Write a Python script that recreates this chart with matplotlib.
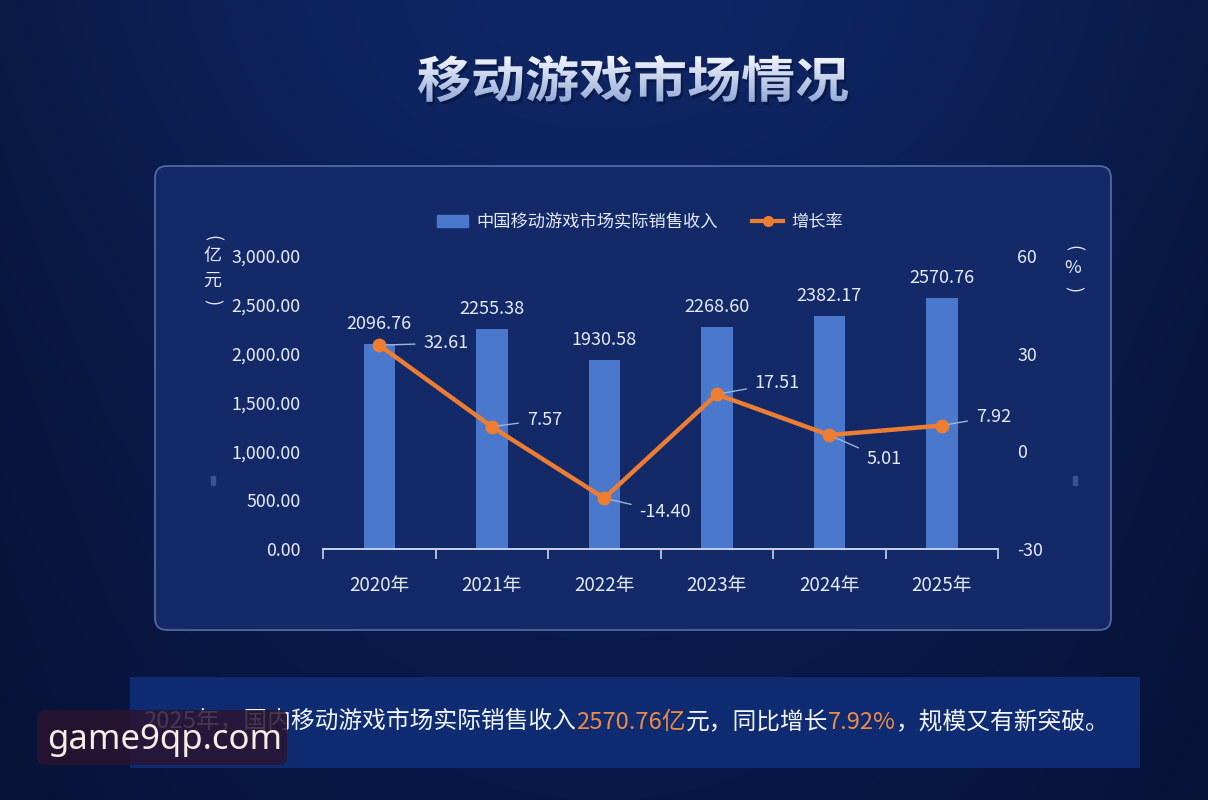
import numpy as np
import matplotlib
matplotlib.use('Agg')
import matplotlib.pyplot as plt
from matplotlib.patches import FancyBboxPatch, Rectangle, PathPatch
from matplotlib.lines import Line2D
from matplotlib.textpath import TextPath
from matplotlib.font_manager import FontProperties
from matplotlib.transforms import Affine2D

plt.rcParams['font.family'] = ['Noto Sans CJK SC', 'DejaVu Sans']
plt.rcParams['axes.unicode_minus'] = False

# data
years = ['2020年', '2021年', '2022年', '2023年', '2024年', '2025年']
income = [2096.76, 2255.38, 1930.58, 2268.60, 2382.17, 2570.76]   # 亿元
growth = [32.61, 7.57, -14.40, 17.51, 5.01, 7.92]                 # %
# where each growth label sits relative to its point (pixels)
label_offsets = [(44, 2), (35, 7), (35, -14), (38, 11), (37, -24), (34, 9)]

title = '移动游戏市场情况'
bar_name = '中国移动游戏市场实际销售收入'
line_name = '增长率'
summary = [('2025年，国内移动游戏市场实际销售收入', 'w'), ('2570.76亿', 'o'),
           ('元，同比增长', 'w'), ('7.92%', 'o'), ('，规模又有新突破。', 'w')]

BLUE = '#4a78cc'
ORANGE = '#ec7d33'
TXT = '#e4eaf7'

W, H = 1208, 800
fig = plt.figure(figsize=(W / 100, H / 100), dpi=100)

# background layer in pixel coords
bg = fig.add_axes([0, 0, 1, 1], zorder=-10)
bg.axis('off')

yy, xx = np.mgrid[0:H, 0:W]
top = np.array([0x0d, 0x22, 0x5c]) / 255
bot = np.array([0x09, 0x18, 0x48]) / 255
t = (yy / H)[..., None]
img = top * (1 - t) + bot * t
glow = np.exp(-(((xx - 604) / 500) ** 2 + ((yy - 60) / 220) ** 2))[..., None]
img = img + glow * np.array([0.01, 0.02, 0.04])
edge = (np.abs(xx - 604) / 604)[..., None] ** 2
img = img * (1 - 0.25 * edge)
bg.imshow(np.clip(img, 0, 1), extent=(0, W, H, 0), aspect='auto', zorder=0)

# chart panel
bg.add_patch(FancyBboxPatch((155, 166), 956, 464,
                            boxstyle='round,pad=0,rounding_size=12',
                            facecolor='#142a68', edgecolor='#51679f',
                            lw=1.3, zorder=1))
for px in (211, 1073):
    bg.add_patch(Rectangle((px, 476), 4, 9, color='#3a5290', zorder=2))

# bottom banner
bg.add_patch(Rectangle((130, 677), 1010, 91, facecolor='#0f2c72',
                       edgecolor='none', zorder=1))

# title with gradient fill
fp = FontProperties(family='Noto Sans CJK SC', weight='bold')
tp = TextPath((0, 0), title, size=50, prop=fp)
ext = tp.get_extents()
sx = 430 / ext.width
sy = 47 / ext.height
tr = Affine2D().translate(-ext.x0, -ext.y0).scale(sx, -sy).translate(420, 105)
bg.add_patch(PathPatch(tr.transform_path(tp), facecolor='#050d2a',
                       edgecolor='none', alpha=0.45, zorder=3))
tr = Affine2D().translate(-ext.x0, -ext.y0).scale(sx, -sy).translate(418, 102)
clip = PathPatch(tr.transform_path(tp), facecolor='none', edgecolor='none',
                 zorder=4)
bg.add_patch(clip)
g = np.linspace(0, 1, 100)[:, None]
c1 = np.array([0xf6, 0xf8, 0xfd]) / 255
c2 = np.array([0x93, 0xa9, 0xd6]) / 255
grad = c1 * (1 - g[..., None]) + c2 * g[..., None]
grad = np.repeat(grad, 2, axis=1)
im = bg.imshow(grad, extent=(418, 848, 102, 55), aspect='auto', zorder=4)
im.set_clip_path(clip)

bg.set_xlim(0, W)
bg.set_ylim(H, 0)

# summary line with coloured numbers
colors = {'w': '#f2f5fb', 'o': '#ee8a45'}
txt = bg.text(143, 722, summary[0][0], color=colors[summary[0][1]],
              fontsize=17.1, va='center', ha='left', zorder=5)
for seg, c in summary[1:]:
    txt = bg.annotate(seg, xy=(1, 0), xycoords=txt, va='bottom', ha='left',
                      color=colors[c], fontsize=17.1, zorder=5)

# watermark
bg.add_patch(FancyBboxPatch((37, 710), 250, 55,
                            boxstyle='round,pad=0,rounding_size=8',
                            facecolor='#2a1530', edgecolor='none',
                            alpha=0.85, zorder=6))
bg.text(47, 740, 'game9qp.com', color='#f6eee4', fontsize=25,
        family=['Noto Sans', 'DejaVu Sans'], va='center', ha='left',
        zorder=7)

# main chart
ax = fig.add_axes([323 / W, 1 - 549 / H, 675 / W, 293 / H])
ax.set_facecolor('none')
x = np.arange(len(years))
ax.bar(x, income, width=0.28, color=BLUE, zorder=2)
for i, v in enumerate(income):
    ax.annotate(f'{v:.2f}', (i, v), xytext=(0, 11), textcoords='offset pixels',
                ha='center', va='bottom', color=TXT, fontsize=13)
ax.set_xlim(-0.5, len(years) - 0.5)
ax.set_ylim(0, 3000)
ax.set_yticks(np.arange(0, 3001, 500))
ax.set_yticklabels([f'{v:,.2f}' for v in np.arange(0, 3001, 500)])
ax.set_xticks(x)
ax.set_xticklabels(years)
ax.set_xticks(np.arange(-0.5, len(years)), minor=True)
ax.tick_params(axis='x', which='major', length=0, pad=19, labelsize=13.5,
               labelcolor=TXT)
ax.tick_params(axis='x', which='minor', length=7, width=1.2, color='#c8d2ea')
ax.tick_params(axis='y', length=0, pad=16, labelsize=12.8, labelcolor=TXT)
for s in ['top', 'left', 'right']:
    ax.spines[s].set_visible(False)
ax.spines['bottom'].set_color('#c8d2ea')
ax.spines['bottom'].set_linewidth(1.4)

ax2 = ax.twinx()
ax2.plot(x, growth, color=ORANGE, lw=3.2, marker='o', ms=9, zorder=3)
for i, gv in enumerate(growth):
    ax2.annotate(f'{gv:.2f}', (i, gv), xytext=label_offsets[i],
                 textcoords='offset pixels', ha='left', va='center',
                 color=TXT, fontsize=13,
                 arrowprops=dict(arrowstyle='-', color='#9fb2db', lw=1,
                                 shrinkA=4, shrinkB=5))
ax2.set_ylim(-30, 60)
ax2.set_yticks([-30, 0, 30, 60])
ax2.tick_params(axis='y', length=0, pad=14, labelsize=12.8, labelcolor=TXT)
for s in ax2.spines.values():
    s.set_visible(False)

# unit labels
for ch, yp, rot in [('(', 238, -90), ('亿', 256, 0), ('元', 281, 0), (')', 302, -90)]:
    fig.text(212 / W, 1 - yp / H, ch, color=TXT, fontsize=13, rotation=rot,
             ha='center', va='center')
for ch, yp, rot in [('(', 248, -90), ('%', 268, 0), (')', 289, -90)]:
    fig.text(1073 / W, 1 - yp / H, ch, color=TXT, fontsize=13, rotation=rot,
             ha='center', va='center')

# legend
handles = [Rectangle((0, 0), 1, 1, color=BLUE),
           Line2D([], [], color=ORANGE, lw=3, marker='o', ms=7)]
fig.legend(handles, [bar_name, line_name], loc='center',
           bbox_to_anchor=(640 / W, 1 - 222 / H), ncol=2, frameon=False,
           fontsize=12.4, labelcolor=TXT, handlelength=1.8, handletextpad=0.5,
           columnspacing=2.0)

fig.savefig('out.png', dpi=100)
